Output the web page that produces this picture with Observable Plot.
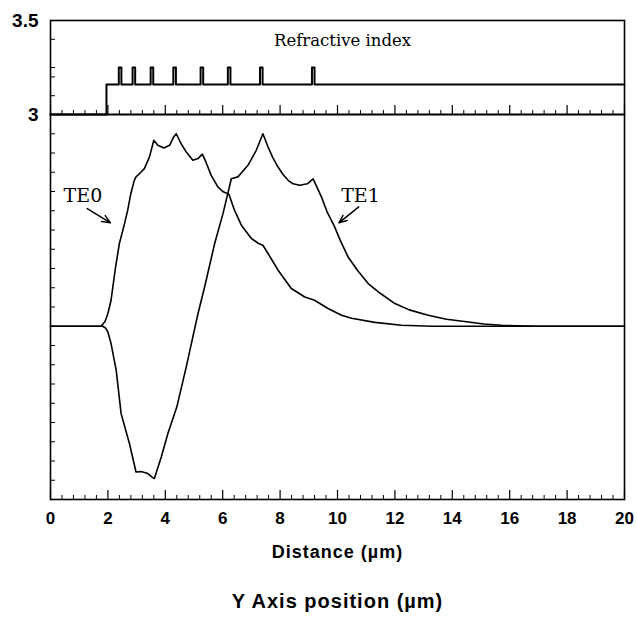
<!DOCTYPE html>
<html><head><meta charset="utf-8">
<script src="https://cdn.jsdelivr.net/npm/d3@7"></script>
<script src="https://cdn.jsdelivr.net/npm/@observablehq/plot@0.6"></script>
<style>
html,body{margin:0;padding:0;background:#fff;}
#chart{position:relative;width:637px;height:627px;}
#chart svg{position:absolute;left:0;}
</style></head><body><div id="chart"></div>
<script>
// ---------- data ----------
// Refractive index profile (step-after breakpoints)
const indexX = [0, 1.95, 2.38, 2.47, 2.86, 2.95, 3.49, 3.58, 4.28, 4.37, 5.23, 5.32, 6.18, 6.27, 7.30, 7.39, 9.11, 9.20, 20];
const indexN = [3.0, 3.16, 3.25, 3.16, 3.25, 3.16, 3.25, 3.16, 3.25, 3.16, 3.25, 3.16, 3.25, 3.16, 3.25, 3.16, 3.25, 3.16, 3.16];

// TE0 mode field (arbitrary units)
const te0X = [0, 1.76, 1.9, 2.0, 2.11, 2.25, 2.40, 2.58, 2.69, 2.80, 2.92, 2.98, 3.15, 3.27, 3.45, 3.60, 3.74, 3.95, 4.15, 4.28, 4.38, 4.55, 4.73, 4.96, 5.14, 5.29, 5.39, 5.60, 5.83, 6.0, 6.22, 6.41, 6.65, 7.0, 7.25, 7.40, 7.58, 7.93, 8.39, 8.86, 9.2, 9.67, 10.14, 10.49, 11.3, 12.23, 13.3, 20];
const te0Y = [0, 0, 0.25, 0.66, 1.35, 2.9, 4.3, 5.33, 6.03, 6.9, 7.58, 7.76, 8.0, 8.19, 8.8, 9.66, 9.4, 9.26, 9.4, 9.8, 10.0, 9.49, 9.05, 8.62, 8.71, 8.94, 8.62, 7.84, 7.24, 7.0, 6.85, 6.03, 5.25, 4.56, 4.3, 4.21, 3.78, 2.91, 1.96, 1.52, 1.35, 0.92, 0.57, 0.42, 0.2, 0.05, 0, 0];

// TE1 mode field (arbitrary units)
const te1X = [0, 1.82, 1.92, 2.0, 2.11, 2.29, 2.46, 2.75, 2.98, 3.16, 3.39, 3.55, 3.62, 3.86, 4.09, 4.40, 4.73, 4.96, 5.14, 5.37, 5.72, 6.01, 6.18, 6.30, 6.53, 6.88, 7.17, 7.40, 7.58, 7.75, 7.93, 8.1, 8.28, 8.45, 8.68, 8.95, 9.15, 9.44, 9.65, 9.9, 10.1, 10.37, 10.7, 11.07, 11.5, 12.0, 12.5, 13.16, 13.8, 14.56, 15.1, 15.72, 16.9, 20];
const te1Y = [0, 0, -0.1, -0.3, -0.9, -2.29, -4.54, -6.09, -7.57, -7.55, -7.65, -7.85, -7.91, -6.79, -5.57, -4.2, -2.11, -0.55, 0.66, 2.04, 4.3, 5.85, 6.9, 7.66, 7.76, 8.36, 9.14, 10.0, 9.31, 8.75, 8.27, 7.88, 7.58, 7.4, 7.32, 7.4, 7.66, 6.72, 5.9, 5.16, 4.45, 3.6, 2.9, 2.22, 1.7, 1.18, 0.85, 0.57, 0.36, 0.22, 0.12, 0.05, 0, 0];

// ticks and labels
const xTickLabels = [0, 2, 4, 6, 8, 10, 12, 14, 16, 18, 20];
const xMinorTicks = d3.range(0, 20.001, 0.4).filter(v => Math.abs(v / 2 - Math.round(v / 2)) > 1e-6);
const topYLabels = [3, 3.5];
const topYMinor = [3.1, 3.2, 3.25, 3.4];
const botYMinor = d3.range(-8, 11);
const indexLabel = ["Refractive index"];
const modeLabels = ["TE0", "TE1"];
const modeLabelX = [1.13, 10.8];
const modeLabelY = [6.44, 6.44];
const arrows = [
  {x1: 1.28, y1: 6.11, x2: 2.09, y2: 5.37},
  {x1: 10.74, y1: 6.2, x2: 10.05, y2: 5.37}
];
const xTitle = ["Distance (\u00b5m)"];
const bottomTitle = ["Y Axis position (\u00b5m)"];

// ---------- tables ----------
const indexData = indexX.map((x, i) => ({x, n: indexN[i]}));
const modes = [
  ...te0X.map((x, i) => ({x, v: te0Y[i], mode: "TE0"})),
  ...te1X.map((x, i) => ({x, v: te1Y[i], mode: "TE1"}))
];

// ---------- layout ----------
const W = 637, ML = 50, MR = 13;
const PW = W - ML - MR;
const topH = 114, topMT = 20, topPH = topH - topMT;
const botTop = 114, botPH = 385, botH = 627 - botTop, botMB = botH - botPH;
const svgStyle = {overflow: "visible", background: "transparent", fontFamily: "Liberation Sans, Arial, sans-serif", color: "black"};

const topPlot = Plot.plot({
  width: W, height: topH, marginTop: topMT, marginBottom: 0, marginLeft: ML, marginRight: MR,
  style: svgStyle,
  x: {domain: [0, 20], axis: null, label: null},
  y: {domain: [3, 3.5], label: null},
  marks: [
    Plot.tickY(topYMinor, {y: d => d, insetRight: PW - 5, stroke: "black", strokeWidth: 1}),
    Plot.tickX(xMinorTicks, {x: d => d, insetTop: topPH - 4, stroke: "black", strokeWidth: 1}),
    Plot.tickX(xTickLabels, {x: d => d, insetTop: topPH - 9, stroke: "black", strokeWidth: 1.2}),
    Plot.line(indexData, {x: "x", y: "n", curve: "step-after", stroke: "black", strokeWidth: 2}),
    Plot.frame({stroke: "black", strokeWidth: 1.6}),
    Plot.axisY(topYLabels, {tickSize: 0, tickPadding: 12, fontSize: 19, fontWeight: "bold", tickFormat: d => String(d), label: null}),
    Plot.text(indexLabel, {text: d => d, frameAnchor: "top", dx: 5, dy: 25.5, lineAnchor: "bottom", fontFamily: "DejaVu Serif", fontSize: 16.5, fill: "black"})
  ]
});

const botPlot = Plot.plot({
  width: W, height: botH, marginTop: 0, marginBottom: botMB, marginLeft: ML, marginRight: MR,
  style: svgStyle,
  x: {domain: [0, 20], label: null},
  y: {domain: [-9, 11], axis: null, label: null},
  marks: [
    Plot.tickY(botYMinor, {y: d => d, insetRight: PW - 5, stroke: "black", strokeWidth: 1}),
    Plot.tickX(xMinorTicks, {x: d => d, insetTop: botPH - 4, stroke: "black", strokeWidth: 1}),
    Plot.tickX(xTickLabels, {x: d => d, insetTop: botPH - 9, stroke: "black", strokeWidth: 1.2}),
    Plot.line(modes, {x: "x", y: "v", z: "mode", stroke: "black", strokeWidth: 1.6, strokeLinejoin: "round"}),
    Plot.frame({stroke: "black", strokeWidth: 1.6}),
    Plot.axisX(xTickLabels, {tickSize: 0, tickPadding: 12, fontSize: 17, fontWeight: "bold", tickFormat: d => String(d), label: null}),
    Plot.text(modeLabels, {x: modeLabelX, y: modeLabelY, text: d => d, lineAnchor: "bottom", fontFamily: "DejaVu Serif", fontSize: 19, fill: "black"}),
    Plot.arrow(arrows, {x1: "x1", y1: "y1", x2: "x2", y2: "y2", stroke: "black", strokeWidth: 1.5, headLength: 9, headAngle: 45}),
    Plot.text(xTitle, {text: d => d, frameAnchor: "bottom", lineAnchor: "bottom", dy: 58, fontSize: 18, fontWeight: "bold", fill: "black"}),
    Plot.text(bottomTitle, {text: d => d, frameAnchor: "bottom", lineAnchor: "bottom", dy: 108, fontSize: 20, fontWeight: "bold", fill: "black"})
  ]
});

const chart = document.getElementById("chart");
botPlot.style.top = botTop + "px";
topPlot.style.top = "0px";
chart.appendChild(botPlot);
chart.appendChild(topPlot);

// slight letter spacing on the titles to mimic the original's wide lettering
botPlot.querySelectorAll("text").forEach(t => {
  if (t.textContent === xTitle[0]) t.setAttribute("letter-spacing", "1");
  if (t.textContent === bottomTitle[0]) t.setAttribute("letter-spacing", "1");
});
</script></body></html>
